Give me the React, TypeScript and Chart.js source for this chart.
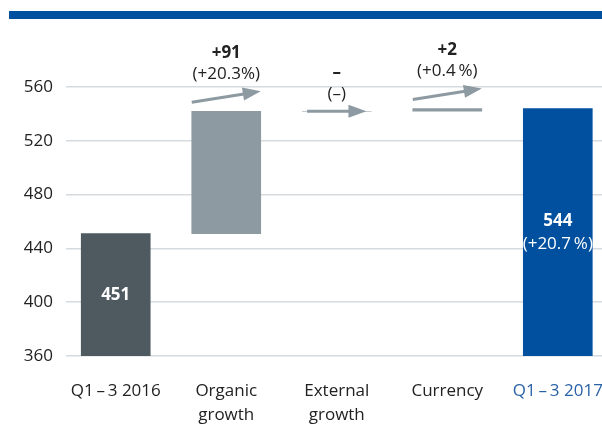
import React, { useEffect, useRef } from "react";
import { Chart, registerables } from "chart.js";

Chart.register(...registerables);

// ---- data ----
const categories: string[][] = [
  ["Q1\u2009\u2013\u20093 2016"],
  ["Organic", "growth"],
  ["External", "growth"],
  ["Currency"],
  ["Q1\u2009\u2013\u20093 2017"],
];
const startValue = 451;
const deltas = [91, 0, 2];
const endValue = 544;
const deltaLabels = ["+91", "\u2013", "+2"];
const deltaPctLabels = ["(+20.3%)", "(\u2013)", "(+0.4\u2009%)"];
const endPctLabel = "(+20.7\u2009%)";
const yMin = 360;
const yMax = 560;
const yStep = 40;

// ---- styles ----
const FONT = "'Open Sans', 'Noto Sans', sans-serif";
const DARK = "#4e5a60";
const GREY = "#8d9aa2";
const BLUE = "#00509f";
const LABEL_BLUE = "#2a62a8";
const TEXT = "#222222";

function buildBars() {
  const bars: [number, number][] = [[yMin, startValue]];
  let level = startValue;
  deltas.forEach((d) => {
    bars.push([level, level + d]);
    level += d;
  });
  bars.push([yMin, endValue]);
  return bars;
}

const overlayPlugin = {
  id: "overlay",
  beforeDraw(chart: any) {
    const ctx = chart.ctx;
    ctx.save();
    ctx.fillStyle = BLUE;
    ctx.fillRect(9, 11, chart.width - 9, 8);
    ctx.restore();
  },
  afterDatasetsDraw(chart: any) {
    const ctx = chart.ctx;
    const meta = chart.getDatasetMeta(0);
    const yScale = chart.scales.y;
    ctx.save();
    ctx.textAlign = "center";
    ctx.textBaseline = "middle";

    // total labels inside bars
    const first = meta.data[0];
    ctx.fillStyle = "#ffffff";
    ctx.font = `bold 17px ${FONT}`;
    const firstMid = yScale.getPixelForValue((yMin + startValue) / 2);
    ctx.fillText(String(startValue), first.x, firstMid);

    const last = meta.data[meta.data.length - 1];
    const lastMid = yScale.getPixelForValue((yMin + endValue) / 2);
    ctx.font = `bold 17px ${FONT}`;
    ctx.fillText(String(endValue), last.x, lastMid - 11);
    ctx.font = `17px ${FONT}`;
    ctx.fillText(endPctLabel, last.x, lastMid + 12);

    // arrows + delta labels
    let level = startValue;
    deltas.forEach((d, i) => {
      const el = meta.data[i + 1];
      const w = el.width;
      const top = yScale.getPixelForValue(level + d);
      let x1: number, y1: number, x2: number, y2: number;
      if (d > 0) {
        x1 = el.x - w / 2;
        x2 = el.x + w / 2;
        y1 = top - 9;
        y2 = top - 20;
      } else {
        const yl = yScale.getPixelForValue(level);
        x1 = el.x - w * 0.43;
        x2 = el.x + w * 0.43;
        y1 = yl;
        y2 = yl;
      }
      // arrow
      const ang = Math.atan2(y2 - y1, x2 - x1);
      const headLen = 18;
      const headHalf = 6.5;
      const bx = x2 - headLen * Math.cos(ang);
      const by = y2 - headLen * Math.sin(ang);
      ctx.strokeStyle = GREY;
      ctx.fillStyle = GREY;
      ctx.lineWidth = 3;
      ctx.beginPath();
      ctx.moveTo(x1, y1);
      ctx.lineTo(bx + 1, by);
      ctx.stroke();
      ctx.beginPath();
      ctx.moveTo(x2, y2);
      ctx.lineTo(bx - headHalf * Math.sin(ang), by + headHalf * Math.cos(ang));
      ctx.lineTo(bx + headHalf * Math.sin(ang), by - headHalf * Math.cos(ang));
      ctx.closePath();
      ctx.fill();

      const arrowTop = Math.min(y1, y2);
      const pctY = arrowTop - 17;
      const dY = pctY - 21;
      ctx.fillStyle = TEXT;
      ctx.font = `bold 17px ${FONT}`;
      ctx.fillText(deltaLabels[i], el.x, dY);
      ctx.font = `17px ${FONT}`;
      ctx.fillText(deltaPctLabels[i], el.x, pctY);
      level += d;
    });
    ctx.restore();
  },
};

export default function App() {
  const canvasRef = useRef<HTMLCanvasElement | null>(null);

  useEffect(() => {
    document.body.style.margin = "0";
    const canvas = canvasRef.current;
    if (!canvas) return;
    const bars = buildBars();
    const colors = [DARK, ...deltas.map(() => GREY), BLUE];
    const chart = new Chart(canvas, {
      type: "bar",
      data: {
        datasets: [
          {
            data: bars.map((b, i) => ({ x: i, y: b })) as any,
            backgroundColor: colors,
            borderWidth: 0,
            barThickness: 69,
          },
        ],
      },
      options: {
        animation: false,
        responsive: false,
        devicePixelRatio: 1,
        layout: { padding: { top: 87, left: 0, right: 0, bottom: 0 } },
        plugins: {
          legend: { display: false },
          tooltip: { enabled: false },
          title: { display: false },
        },
        scales: {
          x: {
            type: "linear",
            offset: false,
            min: -0.45,
            max: 4.4,
            grid: { display: false },
            border: { display: false },
            afterBuildTicks: (scale: any) => {
              scale.ticks = categories.map((_, i) => ({ value: i }));
            },
            afterFit: (scale: any) => {
              scale.height = 73;
              scale.paddingLeft = 0;
              scale.paddingRight = 0;
            },
            ticks: {
              autoSkip: false,
              maxRotation: 0,
              minRotation: 0,
              padding: 15,
              font: { family: FONT, size: 17, lineHeight: 1.41 },
              color: (c: any) => (c.index === categories.length - 1 ? LABEL_BLUE : TEXT),
              callback: (_v: any, index: number) => categories[index],
            },
          },
          y: {
            type: "linear",
            min: yMin,
            max: yMax,
            grid: { color: "#d6dbdf", lineWidth: 1.5, drawTicks: false },
            border: { display: false },
            afterFit: (scale: any) => {
              scale.width = 66;
            },
            ticks: {
              stepSize: yStep,
              padding: 13,
              font: { family: FONT, size: 17 },
              color: TEXT,
            },
          },
        },
      },
      plugins: [overlayPlugin],
    });
    return () => chart.destroy();
  }, []);

  return (
    <div style={{ width: 602, height: 429, position: "relative", background: "#fff" }}>
      <canvas ref={canvasRef} width={602} height={429} style={{ display: "block" }} />
    </div>
  );
}
